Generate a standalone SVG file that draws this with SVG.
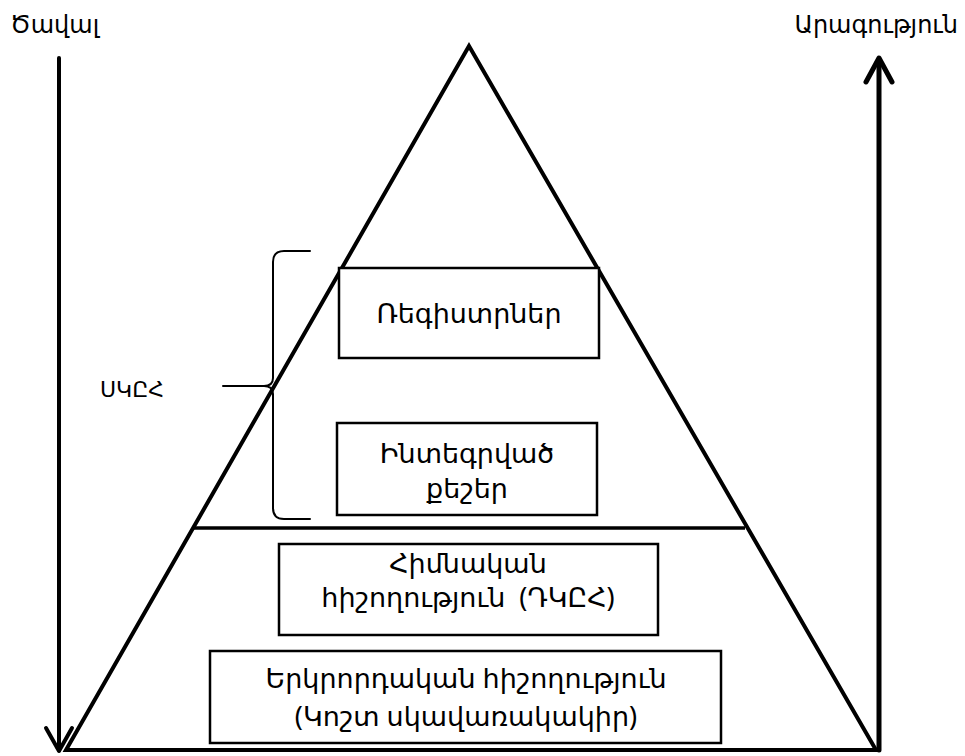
<svg xmlns="http://www.w3.org/2000/svg" width="965" height="756" viewBox="0 0 965 756">
<defs>
<style>
.t{font-family:"Noto Sans","DejaVu Sans",sans-serif;fill:#000;text-anchor:middle;font-size:27px}
.lbl{font-family:"Noto Sans","DejaVu Sans",sans-serif;fill:#000;font-size:24px}
.box{fill:#fff;stroke:#000;stroke-width:2.5}
.edge{fill:none;stroke:#000;stroke-linecap:round;stroke-linejoin:round}
</style>
</defs>
<rect width="965" height="756" fill="#fff"/>
<g id="pyramid">
<polygon points="469,46 66,750 876,750" fill="none" stroke="#000" stroke-width="4" stroke-linejoin="miter"/>
<line x1="193" y1="528" x2="745" y2="528" stroke="#000" stroke-width="3.5"/>
</g>
<g id="connectors">
<path class="edge" d="M59,58 V750" stroke-width="4"/>
<path class="edge" d="M46,728 L59,751 L72,728" stroke-width="4"/>
<path class="edge" d="M879,750 V60" stroke-width="5"/>
<path class="edge" d="M866,82 L879,58 L892,82" stroke-width="5"/>
<path class="edge" d="M310,251 H284 Q273,251 273,262 V378 Q273,386 264,386 H223 M264,386 Q273,386 273,394 V508 Q273,519 284,519 H310" stroke-width="2"/>
</g>
<g id="label-volume"><text class="lbl" x="10" y="33">Ծավալ</text></g>
<g id="label-speed"><text class="lbl" x="958" y="33" text-anchor="end">Արագություն</text></g>
<g id="label-skeh"><text class="lbl" x="100" y="397" style="font-size:22px">ՍԿԸՀ</text></g>
<g id="registers">
<rect class="box" x="339" y="268" width="260" height="90"/>
<text class="t" x="469" y="323">Ռեգիստրներ</text>
</g>
<g id="cache">
<rect class="box" x="337" y="423" width="260" height="92"/>
<text class="t" x="467" y="463">Ինտեգրված</text>
<text class="t" x="467" y="498">քեշեր</text>
</g>
<g id="main-memory">
<rect class="box" x="279" y="544" width="379" height="91"/>
<text class="t" x="468" y="573">Հիմնական</text>
<text class="t" x="468" y="607" xml:space="preserve">հիշողություն  (ԴԿԸՀ)</text>
</g>
<g id="secondary-memory">
<rect class="box" x="210" y="651" width="511" height="92"/>
<text class="t" x="466" y="688">Երկրորդական հիշողություն</text>
<text class="t" x="466" y="726">(Կոշտ սկավառակակիր)</text>
</g>
</svg>
